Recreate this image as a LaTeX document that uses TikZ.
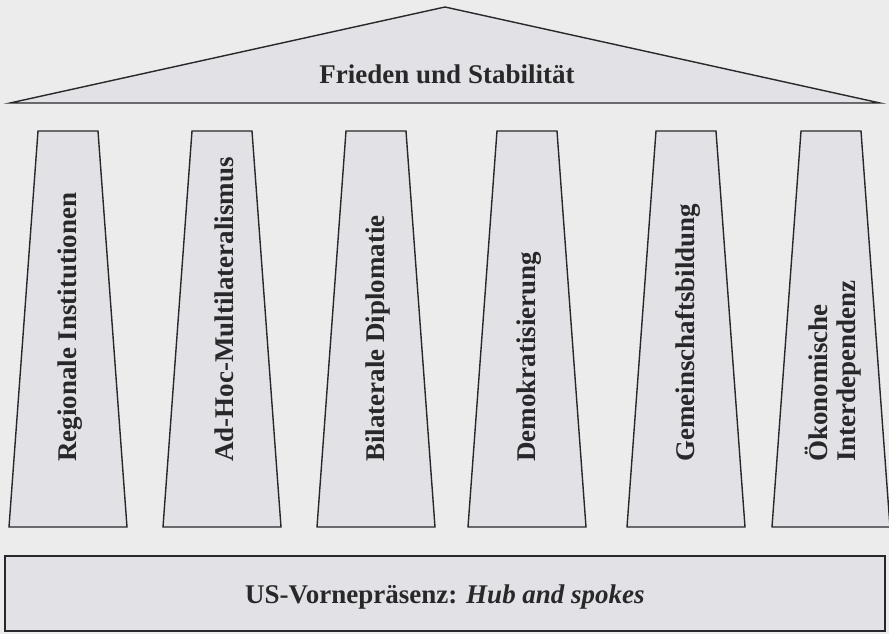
\documentclass[tikz,border=0pt]{standalone}
\usepackage{fontspec}
\setmainfont{Liberation Serif}
\usepackage{tikz}
\usetikzlibrary{positioning}

\definecolor{paper}{RGB}{236,236,237}
\definecolor{stone}{RGB}{226,226,230}
\definecolor{ink}{RGB}{40,40,42}

\tikzset{
	part/.style={draw=ink, line width=1.4pt, fill=stone, line join=miter},
	caption/.style={text=ink, font=\fontsize{27}{30}\selectfont\bfseries, inner sep=0pt},
	pillartext/.style={caption, font=\fontsize{27}{28}\selectfont\bfseries, rotate=90, anchor=west, align=left}
}

\begin{document}
\begin{tikzpicture}[x=1pt, y=-1pt]
	\fill[paper] (0,0) rectangle (889,634);
	\useasboundingbox (0,0) rectangle (889,634);
	% roof
	\draw[part] (10,103) -- (445,7) -- (880,103) -- cycle;
	\node[caption] (roof) at (447,74) {Frieden und Stabilität};
	% pillars
	\foreach \c/\name/\txt in {68/regional/Regionale Institutionen,
			222/adhoc/Ad-Hoc-Multilateralismus,
			376/bilateral/Bilaterale Diplomatie,
			527/demo/Demokratisierung,
			686/gemeinschaft/Gemeinschaftsbildung,
			831/oekonomie/{Ökonomische\\Interdependenz}}{
		\draw[part] (\c-30,131) -- (\c+30,131) -- (\c+59,527) -- (\c-59,527) -- cycle;
		\node[pillartext] (\name) at (\c+2,462) {\txt};
	}
	% base
	\draw[part] (5,556) rectangle (885,631);
	\node[caption] (base) at (445,597) {US-Vornepräsenz: \textit{Hub and spokes}};
\end{tikzpicture}
\end{document}
